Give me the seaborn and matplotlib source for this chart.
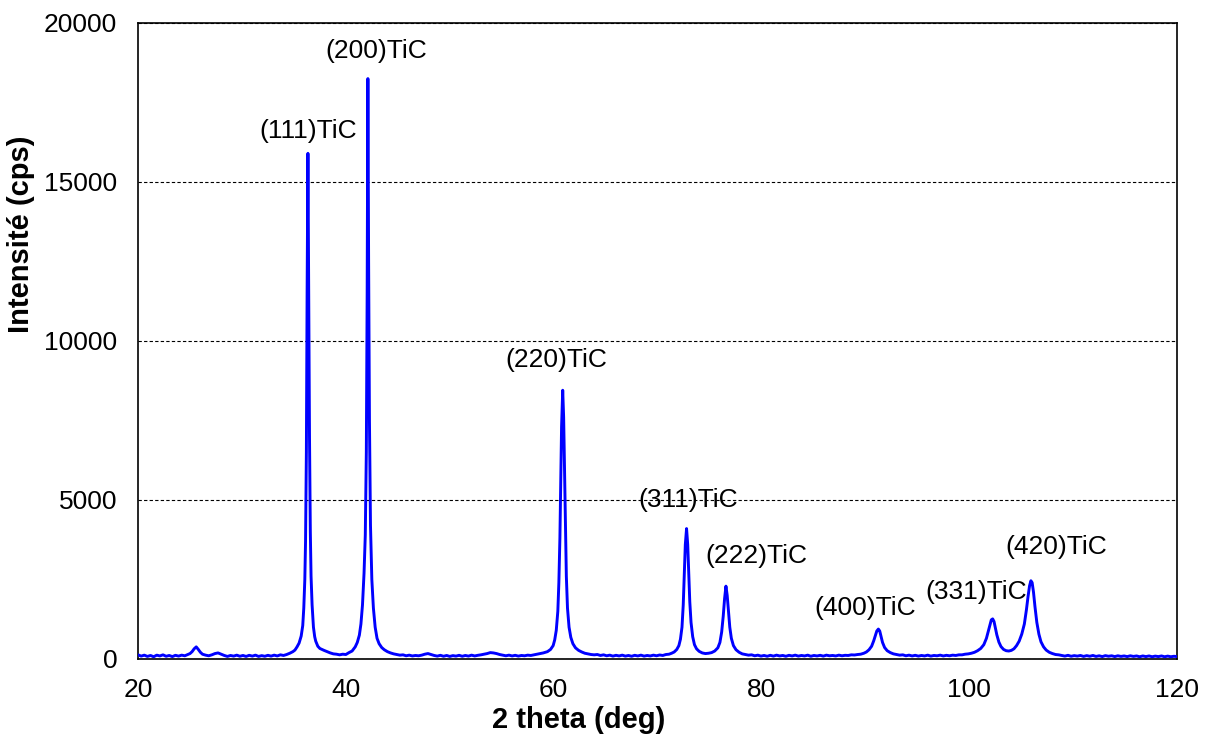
import matplotlib
matplotlib.use("Agg")
import matplotlib.pyplot as plt
import seaborn as sns
import pandas as pd

# ---------------- data ----------------
two_theta = [
    20.0, 20.3, 20.6, 20.9, 21.2, 21.5, 21.8, 22.1, 22.4, 22.7, 23.0, 23.3, 23.6, 23.9,
    24.2, 24.5, 24.8, 25.0, 25.2, 25.4, 25.6, 25.8, 26.0, 26.2, 26.5, 26.8, 27.1, 27.4,
    27.7, 28.0, 28.3, 28.6, 28.9, 29.2, 29.5, 29.8, 30.1, 30.4, 30.7, 31.0, 31.3, 31.6,
    31.9, 32.2, 32.5, 32.8, 33.1, 33.4, 33.7, 34.0, 34.3, 34.6, 34.9, 35.1, 35.3, 35.5,
    35.7, 35.85, 35.95, 36.05, 36.12, 36.2, 36.27, 36.35, 36.42, 36.5, 36.58, 36.65,
    36.75, 36.88, 37.0, 37.1, 37.3, 37.5, 37.7, 37.9, 38.2, 38.5, 38.8, 39.1, 39.4,
    39.7, 40.0, 40.3, 40.6, 40.9, 41.1, 41.3, 41.45, 41.6, 41.75, 41.87, 41.97, 42.05,
    42.12, 42.19, 42.27, 42.37, 42.5, 42.65, 42.82, 43.0, 43.2, 43.45, 43.7, 44.0,
    44.3, 44.6, 44.9, 45.2, 45.5, 45.8, 46.1, 46.4, 46.7, 47.0, 47.3, 47.6, 47.9,
    48.2, 48.5, 48.8, 49.1, 49.4, 49.7, 50.0, 50.3, 50.6, 50.9, 51.2, 51.5, 51.8,
    52.1, 52.4, 52.7, 53.0, 53.3, 53.6, 53.9, 54.2, 54.5, 54.8, 55.1, 55.4, 55.7,
    56.0, 56.3, 56.6, 56.9, 57.2, 57.5, 57.8, 58.1, 58.4, 58.7, 59.0, 59.2, 59.4,
    59.7, 59.95, 60.1, 60.25, 60.4, 60.5, 60.6, 60.68, 60.76, 60.87, 60.96, 61.05,
    61.13, 61.22, 61.33, 61.48, 61.65, 61.85, 62.1, 62.4, 62.7, 63.0, 63.3, 63.6,
    63.9, 64.2, 64.5, 64.8, 65.1, 65.4, 65.7, 66.0, 66.3, 66.6, 66.9, 67.2, 67.5,
    67.8, 68.1, 68.4, 68.7, 69.0, 69.3, 69.6, 69.9, 70.2, 70.5, 70.8, 71.1, 71.35,
    71.6, 71.85, 72.05, 72.2, 72.35, 72.47, 72.57, 72.67, 72.79, 72.9, 73.0, 73.1,
    73.22, 73.38, 73.55, 73.75, 74.0, 74.3, 74.6, 74.9, 75.2, 75.5, 75.8, 76.0,
    76.17, 76.32, 76.45, 76.58, 76.7, 76.82, 76.95, 77.1, 77.3, 77.55, 77.85, 78.15,
    78.45, 78.75, 79.05, 79.35, 79.65, 79.95, 80.25, 80.55, 80.85, 81.15, 81.45,
    81.75, 82.05, 82.35, 82.65, 82.95, 83.25, 83.55, 83.85, 84.15, 84.45, 84.75,
    85.05, 85.35, 85.65, 85.95, 86.25, 86.55, 86.85, 87.15, 87.45, 87.75, 88.05,
    88.35, 88.65, 88.95, 89.25, 89.55, 89.85, 90.1, 90.35, 90.6, 90.8, 90.97, 91.1,
    91.25, 91.38, 91.5, 91.65, 91.85, 92.1, 92.4, 92.7, 93.0, 93.3, 93.6, 93.9,
    94.2, 94.5, 94.8, 95.1, 95.4, 95.7, 96.0, 96.3, 96.6, 96.9, 97.2, 97.5, 97.8,
    98.1, 98.4, 98.7, 99.0, 99.3, 99.6, 99.9, 100.2, 100.5, 100.8, 101.1, 101.4,
    101.65, 101.85, 102.0, 102.12, 102.25, 102.38, 102.5, 102.65, 102.85, 103.05,
    103.3, 103.55, 103.8, 104.05, 104.3, 104.55, 104.8, 105.05, 105.3, 105.5,
    105.65, 105.8, 105.93, 106.05, 106.18, 106.32, 106.5, 106.7, 106.9, 107.15,
    107.4, 107.7, 108.0, 108.3, 108.6, 108.9, 109.2, 109.5, 109.8, 110.1, 110.4,
    110.7, 111.0, 111.3, 111.6, 111.9, 112.2, 112.5, 112.8, 113.1, 113.4, 113.7,
    114.0, 114.3, 114.6, 114.9, 115.2, 115.5, 115.8, 116.1, 116.4, 116.7, 117.0,
    117.3, 117.6, 117.9, 118.2, 118.5, 118.8, 119.1, 119.4, 119.7, 120.0,
]
intensity = [
    130, 90, 120, 80, 110, 70, 120, 95, 130, 85, 110, 75, 115, 90,
    120, 100, 140, 170, 230, 320, 380, 300, 210, 150, 120, 100, 130, 170,
    190, 150, 110, 80, 110, 90, 120, 85, 110, 80, 115, 90, 120, 80,
    105, 85, 115, 90, 120, 95, 130, 110, 140, 180, 230, 280, 380, 500,
    720, 1050, 1600, 2500, 3700, 6500, 11500, 15900, 12000, 7000, 4000, 2600,
    1700, 1000, 700, 560, 400, 330, 300, 270, 230, 190, 160, 150, 130,
    150, 140, 200, 250, 380, 520, 750, 1100, 1700, 2700, 3900, 6500, 11500,
    18250, 12500, 7500, 4200, 2500, 1600, 1000, 650, 480, 360, 290, 230,
    190, 160, 140, 120, 130, 100, 120, 95, 110, 100, 120, 150, 170,
    140, 110, 90, 115, 85, 110, 80, 105, 90, 115, 85, 110, 90,
    120, 95, 115, 130, 150, 170, 200, 190, 170, 140, 120, 100, 120,
    95, 115, 90, 110, 100, 120, 110, 130, 150, 170, 190, 210, 230,
    300, 420, 600, 900, 1500, 2400, 3800, 5500, 7300, 8450, 7600, 5800,
    4000, 2600, 1600, 1000, 680, 480, 350, 270, 220, 180, 160, 140,
    130, 140, 110, 130, 100, 120, 90, 115, 95, 120, 90, 110, 85,
    115, 95, 120, 90, 110, 95, 120, 100, 125, 110, 140, 150, 180,
    220, 300, 420, 620, 1000, 1700, 2700, 3600, 4100, 3600, 2700, 1800,
    1150, 700, 450, 320, 240, 190, 170, 180, 200, 250, 350, 520,
    850, 1350, 1900, 2290, 2000, 1500, 1000, 650, 420, 290, 210, 160,
    140, 120, 130, 100, 120, 90, 110, 85, 115, 90, 120,
    95, 110, 85, 115, 95, 120, 90, 110, 95, 120, 85,
    110, 95, 115, 90, 120, 100, 110, 95, 120, 100, 115,
    110, 130, 125, 140, 150, 180, 220, 290, 400, 570, 750, 880,
    940, 880, 720, 520, 360, 260, 200, 160, 140, 120, 130, 100,
    120, 95, 115, 90, 110, 95, 120, 90, 110, 100, 120, 95, 115,
    100, 120, 110, 130, 130, 150, 160, 180, 210, 260, 330, 450,
    650, 900, 1100, 1230, 1260, 1180, 1000, 760, 530, 390,
    300, 260, 250, 270, 320, 420, 560, 780, 1100, 1550,
    1950, 2300, 2460, 2400, 2100, 1650, 1150, 780, 540, 380,
    280, 210, 170, 140, 130, 110, 90, 115, 85, 105, 90,
    110, 80, 105, 85, 110, 80, 100, 75, 105, 85, 100,
    75, 100, 80, 95, 75, 100, 80, 95, 70, 95, 75,
    95, 70, 90, 75, 95, 70, 90, 70, 85, 75,
]

peak_labels = ["(111)TiC", "(200)TiC", "(220)TiC", "(311)TiC",
               "(222)TiC", "(400)TiC", "(331)TiC", "(420)TiC"]
label_x = [36.35, 42.9, 60.3, 72.97, 79.5, 90.0, 100.67, 108.35]
label_y = [16610, 19120, 9390, 4990, 3230, 1600, 2100, 3520]

x_ticks = [20, 40, 60, 80, 100, 120]
y_ticks = [0, 5000, 10000, 15000, 20000]

# ---------------- plotting ----------------
sns.set_style("white")
plt.rcParams["font.family"] = ["Liberation Sans", "DejaVu Sans"]
plt.rcParams["text.color"] = "black"
plt.rcParams["axes.labelcolor"] = "black"

df = pd.DataFrame({"two_theta": two_theta, "intensity": intensity})

fig = plt.figure(figsize=(12.11, 7.4), dpi=100)
ax = fig.add_axes([0.1140, 0.1095, 0.8580, 0.8595])

sns.lineplot(data=df, x="two_theta", y="intensity", sort=False, estimator=None,
             color="#0000FF", linewidth=2.1, ax=ax, zorder=3)

ax.set_xlim(20, 120)
ax.set_ylim(0, 20000)
ax.set_xticks(x_ticks)
ax.set_yticks(y_ticks)
ax.set_xticklabels([str(t) for t in x_ticks])
ax.set_yticklabels([str(t) for t in y_ticks])

ax.yaxis.grid(True, linestyle=(0, (3, 2)), color="black", linewidth=0.8)
ax.xaxis.grid(False)
ax.set_axisbelow(True)

for s in ax.spines.values():
    s.set_visible(True)
    s.set_color("black")
    s.set_linewidth(1.2)

ax.tick_params(axis="both", direction="out", length=6, width=1.1,
               colors="black", labelsize=19)
ax.tick_params(axis="y", pad=9)
ax.tick_params(axis="x", pad=8)

ax.set_xlabel("2 theta (deg)", fontsize=21, fontweight="bold", color="black")
ax.set_ylabel("Intensité (cps)", fontsize=21, fontweight="bold", color="black")
ax.xaxis.set_label_coords(0.4245, -0.074)
ax.yaxis.set_label_coords(-0.099, 0.667)

for lab, lx, ly in zip(peak_labels, label_x, label_y):
    ax.text(lx, ly, lab, ha="center", va="center", fontsize=19, color="black",
            zorder=4)

fig.savefig("out.png", dpi=100, facecolor="white")
